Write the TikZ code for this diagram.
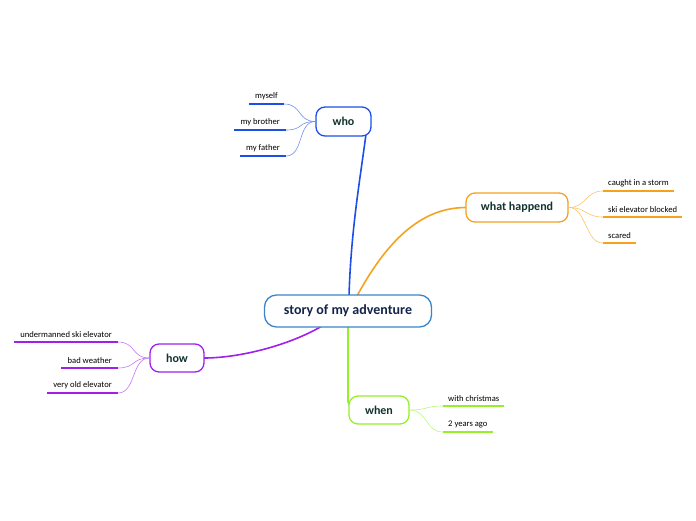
\documentclass[tikz,border=0pt]{standalone}
\usepackage{fontspec}
\setmainfont{Carlito}
\begin{document}
\begin{tikzpicture}[x=1pt,y=-1pt,
  topic/.style={draw=#1, line width=1.3pt, rounded corners=9pt, fill=white, text=textc, font=\fontsize{12}{14}\selectfont\bfseries, inner sep=0pt},
  leafl/.style={anchor=south east, inner xsep=6pt, inner ysep=4pt, font=\fontsize{8.6}{10}\selectfont, text=black},
  leafr/.style={anchor=south west, inner xsep=5pt, inner ysep=4pt, font=\fontsize{8.6}{10}\selectfont, text=black},
  uline/.style={line width=1.6pt, draw=#1},
  twig/.style={line width=0.6pt, draw=#1},
  branch/.style={line width=1.6pt, draw=#1}]
\definecolor{textc}{HTML}{12332E}
\definecolor{maintext}{HTML}{14234A}
\definecolor{cmain}{HTML}{3B86C8}
\definecolor{cwho}{HTML}{1D4FE8}
\definecolor{cwhat}{HTML}{F5A21E}
\definecolor{chow}{HTML}{A020E8}
\definecolor{cwhen}{HTML}{97EE2A}
\definecolor{twho}{HTML}{6F8FF2}
\definecolor{twhat}{HTML}{F9C46E}
\definecolor{thow}{HTML}{C878F2}
\definecolor{twhen}{HTML}{BDF57C}
\useasboundingbox (0,0) rectangle (696,520);

\coordinate (mtop) at (349,296);
\coordinate (mtop2) at (357,296);
\coordinate (mbl) at (322,326);
\coordinate (mbot) at (348,326);

% branches (drawn first, topics cover their ends)
\coordinate (whoin) at (366,134);
\coordinate (whenin) at (349,404);
\coordinate (whatin) at (466,207.5);
\coordinate (howin) at (204,358);
\draw[branch=cwho] (mtop) .. controls (351,230) and (360,180) .. (whoin);
\draw[branch=cwhat] (mtop2) .. controls (390,235) and (425,207.5) .. (whatin);
\draw[branch=chow] (mbl) .. controls (290,345) and (240,358) .. (howin);
\draw[branch=cwhen] (mbot) -- (348,398) .. controls (348,403) .. (whenin);

\node[topic=cmain, minimum width=167pt, minimum height=32pt, text=maintext, font=\fontsize{14}{16}\selectfont\bfseries, rounded corners=12pt] (main) at (348,311) {story of my adventure};
\node[topic=cwho, minimum width=55pt, minimum height=29pt] (who) at (343.5,121.5) {who};
\node[topic=cwhat, minimum width=102pt, minimum height=29pt] (what) at (517,207.5) {what happend};
\node[topic=chow, minimum width=54pt, minimum height=28pt] (how) at (177,358) {how};
\node[topic=cwhen, minimum width=60pt, minimum height=28pt] (when) at (379,410) {when};

% leaves
\node[leafl] (w1) at (284,104) {myself};
\node[leafl] (w2) at (286,130) {my brother};
\node[leafl] (w3) at (286,156) {my father};
\node[leafr] (a1) at (603,191) {caught in a storm};
\node[leafr] (a2) at (603,217) {ski elevator blocked};
\node[leafr] (a3) at (603,243) {scared};
\node[leafl] (h1) at (118,342) {undermanned ski elevator};
\node[leafl] (h2) at (118,368) {bad weather};
\node[leafl] (h3) at (118,393) {very old elevator};
\node[leafr] (n1) at (443,406) {with christmas};
\node[leafr] (n2) at (443,432) {2 years ago};

\foreach \n in {w1,w2,w3} {\draw[uline=cwho] (\n.south west) -- (\n.south east);
  \draw[twig=twho] (who.west) .. controls +(-18,0) and +(18,0) .. (\n.south east);}
\foreach \n in {a1,a2,a3} {\draw[uline=cwhat] (\n.south west) -- (\n.south east);
  \draw[twig=twhat] (what.east) .. controls +(18,0) and +(-18,0) .. (\n.south west);}
\foreach \n in {h1,h2,h3} {\draw[uline=chow] (\n.south west) -- (\n.south east);
  \draw[twig=thow] (how.west) .. controls +(-18,0) and +(18,0) .. (\n.south east);}
\foreach \n in {n1,n2} {\draw[uline=cwhen] (\n.south west) -- (\n.south east);
  \draw[twig=twhen] (when.east) .. controls +(18,0) and +(-18,0) .. (\n.south west);}
\end{tikzpicture}
\end{document}
